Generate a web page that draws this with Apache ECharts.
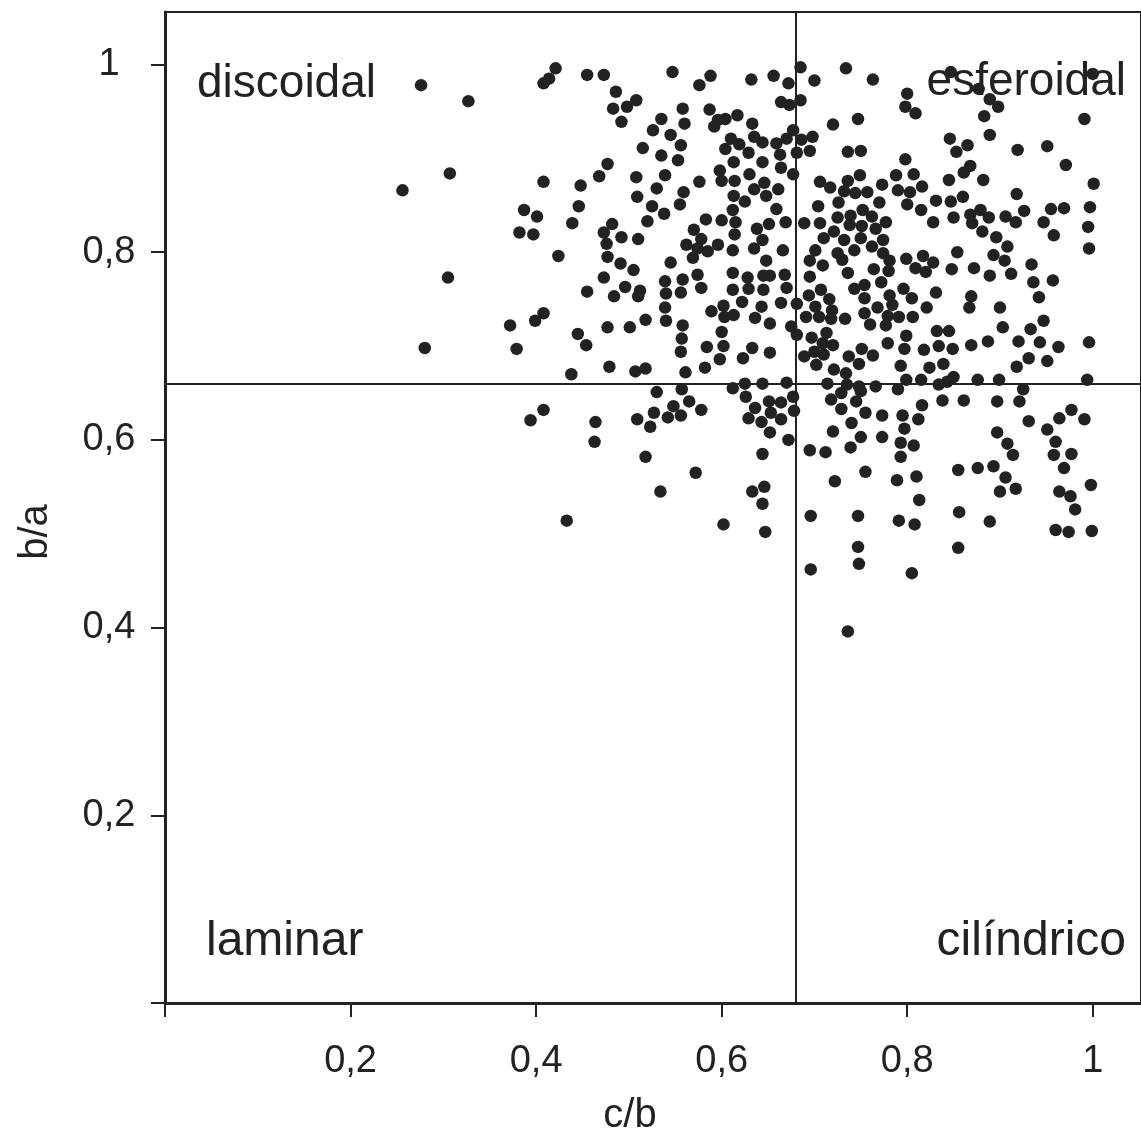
<!DOCTYPE html>
<html>
<head>
<meta charset="utf-8">
<script src="https://cdn.jsdelivr.net/npm/echarts@6/dist/echarts.min.js"></script>
<style>
  html, body { margin: 0; padding: 0; background: #ffffff; }
  #chart { width: 1141px; height: 1138px; }
</style>
</head>
<body>
<div id="chart"></div>
<script>
// Zingg shape diagram: b/a against c/b for each clast.
const FONT = '"Liberation Sans", Arial, Helvetica, sans-serif';
const INK = '#222222';

const xTicks = [0, 0.2, 0.4, 0.6, 0.8, 1];
const xLabels = [0.2, 0.4, 0.6, 0.8, 1];
const yTicks = [0, 0.2, 0.4, 0.6, 0.8, 1];
const yLabels = [0.2, 0.4, 0.6, 0.8, 1];

// class limits
const cbLimit = 0.681;
const baLimit = 0.664;

const classNames = ['discoidal', 'esferoidal', 'laminar', 'cilíndrico'];

// [c/b, b/a] per shape class
const discoidal = [
  [0.276,0.978],[0.327,0.961],[0.307,0.884],[0.256,0.866],[0.387,0.845],[0.401,0.838],[0.382,0.821],[0.397,0.819],[0.305,0.773],[0.372,0.722],[0.399,0.727],
  [0.280,0.698],[0.379,0.697],
  [0.421,0.996],[0.414,0.985],[0.408,0.980],[0.455,0.989],[0.473,0.989],[0.547,0.992],[0.588,0.988],[0.576,0.978],[0.632,0.984],[0.656,0.988],[0.672,0.980],
  [0.486,0.971],[0.483,0.953],[0.498,0.955],[0.508,0.962],[0.492,0.939],[0.558,0.953],[0.535,0.942],[0.560,0.937],[0.526,0.930],[0.587,0.952],[0.596,0.941],[0.604,0.942],[0.617,0.946],[0.592,0.934],[0.633,0.937],[0.664,0.960],[0.673,0.957],[0.677,0.930],
  [0.545,0.925],[0.556,0.914],[0.515,0.911],[0.535,0.903],[0.553,0.898],[0.610,0.921],[0.604,0.910],[0.619,0.915],[0.629,0.906],[0.635,0.923],[0.644,0.917],[0.659,0.916],[0.670,0.921],[0.663,0.904],[0.613,0.896],[0.644,0.896],[0.664,0.890],
  [0.477,0.894],[0.468,0.881],[0.508,0.880],[0.539,0.882],[0.598,0.887],[0.600,0.876],[0.614,0.876],[0.630,0.883],[0.677,0.883],[0.576,0.875],[0.408,0.875],[0.448,0.871],
  [0.530,0.868],[0.559,0.864],[0.646,0.874],[0.635,0.867],[0.661,0.867],[0.648,0.860],[0.613,0.860],[0.625,0.854],[0.509,0.859],[0.525,0.849],[0.555,0.851],[0.538,0.841],[0.446,0.849],[0.612,0.845],[0.659,0.846],
  [0.439,0.831],[0.482,0.830],[0.520,0.833],[0.583,0.835],[0.600,0.834],[0.615,0.832],[0.651,0.830],[0.669,0.832],[0.473,0.821],[0.570,0.824],[0.638,0.825],[0.614,0.819],
  [0.476,0.809],[0.492,0.816],[0.510,0.814],[0.578,0.814],[0.562,0.808],[0.574,0.804],[0.585,0.801],[0.596,0.808],[0.644,0.813],[0.635,0.804],[0.666,0.802],[0.612,0.802],
  [0.424,0.796],[0.477,0.795],[0.569,0.794],[0.545,0.789],[0.648,0.791],[0.491,0.788],[0.505,0.781],[0.473,0.773],[0.612,0.778],[0.628,0.773],[0.645,0.775],[0.652,0.775],[0.668,0.776],[0.539,0.769],[0.558,0.771],[0.574,0.776],
  [0.455,0.758],[0.496,0.763],[0.484,0.753],[0.512,0.759],[0.510,0.753],[0.540,0.756],[0.556,0.757],[0.578,0.762],[0.612,0.760],[0.629,0.761],[0.645,0.760],[0.670,0.762],
  [0.408,0.735],[0.539,0.741],[0.589,0.737],[0.602,0.743],[0.622,0.747],[0.643,0.742],[0.664,0.746],[0.603,0.731],[0.613,0.733],[0.636,0.730],[0.518,0.728],[0.540,0.727],[0.477,0.720],[0.501,0.720],[0.445,0.713],[0.558,0.722],[0.557,0.708],[0.600,0.715],[0.652,0.724],[0.675,0.721],
  [0.454,0.701],[0.556,0.694],[0.584,0.699],[0.602,0.700],[0.633,0.698],[0.652,0.693],[0.598,0.686],[0.623,0.687],[0.582,0.677],[0.479,0.678],[0.438,0.670],[0.507,0.673],[0.518,0.676],[0.561,0.672]
];

const esferoidal = [
  [0.685,0.997],[0.700,0.983],[0.685,0.962],[0.686,0.920],[0.698,0.923],[0.681,0.906],[0.695,0.908],[0.706,0.875],[0.717,0.869],[0.704,0.849],[0.689,0.831],[0.706,0.831],[0.710,0.815],[0.701,0.802],[0.695,0.791],[0.709,0.786],[0.695,0.774],[0.707,0.760],[0.694,0.754],[0.716,0.750],[0.681,0.745],[0.701,0.742],[0.719,0.738],[0.691,0.731],[0.705,0.731],[0.718,0.729],[0.681,0.712],[0.697,0.709],[0.713,0.714],
  [0.734,0.996],[0.763,0.984],[0.847,0.992],[0.877,0.974],[0.889,0.963],[0.898,0.955],[0.883,0.945],[1.000,0.990],[0.800,0.969],[0.798,0.955],[0.809,0.948],[0.991,0.942],[0.720,0.936],[0.747,0.942],
  [0.889,0.925],[0.846,0.921],[0.853,0.907],[0.865,0.914],[0.919,0.909],[0.951,0.913],[0.971,0.893],[0.736,0.907],[0.750,0.908],[0.798,0.899],[0.868,0.892],[0.861,0.885],
  [0.749,0.882],[0.788,0.882],[0.807,0.883],[0.736,0.876],[0.773,0.872],[0.845,0.877],[0.882,0.877],[1.001,0.873],[0.732,0.865],[0.744,0.863],[0.757,0.864],[0.790,0.866],[0.803,0.864],[0.816,0.870],[0.918,0.862],
  [0.726,0.853],[0.770,0.853],[0.800,0.851],[0.815,0.845],[0.831,0.855],[0.847,0.854],[0.860,0.859],[0.752,0.845],[0.997,0.848],[0.955,0.846],[0.969,0.847],
  [0.725,0.837],[0.739,0.839],[0.762,0.838],[0.777,0.832],[0.828,0.832],[0.850,0.837],[0.868,0.840],[0.879,0.845],[0.888,0.837],[0.906,0.838],[0.926,0.844],[0.917,0.832],[0.947,0.832],[0.995,0.827],[0.870,0.831],
  [0.721,0.822],[0.738,0.829],[0.751,0.828],[0.766,0.825],[0.881,0.822],[0.958,0.818],[0.732,0.813],[0.750,0.815],[0.774,0.813],[0.762,0.806],[0.896,0.816],[0.908,0.806],[0.996,0.804],
  [0.725,0.799],[0.743,0.802],[0.774,0.799],[0.854,0.800],[0.893,0.797],[0.730,0.792],[0.781,0.791],[0.799,0.793],[0.817,0.796],[0.828,0.789],[0.905,0.791],[0.934,0.787],
  [0.736,0.778],[0.764,0.782],[0.780,0.780],[0.809,0.783],[0.820,0.779],[0.848,0.782],[0.872,0.783],[0.889,0.775],[0.912,0.777],[0.936,0.768],[0.957,0.770],
  [0.743,0.761],[0.754,0.765],[0.772,0.768],[0.796,0.761],[0.781,0.754],[0.805,0.751],[0.831,0.757],[0.869,0.753],[0.942,0.752],[0.754,0.751],
  [0.768,0.741],[0.784,0.744],[0.821,0.741],[0.867,0.741],[0.900,0.741],[0.733,0.729],[0.754,0.735],[0.779,0.732],[0.791,0.731],[0.806,0.731],[0.777,0.722],[0.760,0.723],[0.947,0.727],[0.903,0.720],[0.933,0.718],[0.832,0.716],[0.845,0.716],[0.799,0.711],
  [0.689,0.689],[0.702,0.680],[0.710,0.691],[0.700,0.694],[0.709,0.703],
  [0.720,0.701],[0.751,0.697],[0.779,0.703],[0.797,0.697],[0.818,0.696],[0.834,0.700],[0.849,0.697],[0.869,0.701],[0.887,0.705],[0.920,0.705],[0.943,0.704],[0.963,0.699],[0.996,0.704],
  [0.737,0.689],[0.763,0.690],[0.748,0.681],[0.721,0.675],[0.734,0.671],[0.793,0.679],[0.824,0.677],[0.839,0.681],[0.918,0.678],[0.931,0.687],[0.951,0.684],
  [0.850,0.667],[0.799,0.664],[0.815,0.664],[0.876,0.664],[0.899,0.664],[0.994,0.664]
];

const laminar = [
  [0.394,0.621],[0.408,0.632],
  [0.612,0.655],[0.625,0.660],[0.644,0.660],[0.670,0.661],[0.530,0.651],[0.557,0.654],[0.565,0.641],[0.548,0.636],[0.527,0.629],[0.542,0.624],[0.556,0.626],[0.578,0.632],[0.509,0.622],[0.523,0.614],
  [0.464,0.619],[0.463,0.598],[0.626,0.646],[0.636,0.634],[0.651,0.641],[0.653,0.629],[0.664,0.640],[0.677,0.646],[0.678,0.631],[0.629,0.623],[0.643,0.619],[0.664,0.622],[0.652,0.608],[0.672,0.600],
  [0.518,0.582],[0.644,0.585],[0.572,0.565],[0.534,0.545],[0.633,0.545],[0.646,0.550],[0.644,0.532],
  [0.433,0.514],[0.602,0.510],[0.647,0.502]
];

const cilindrico = [
  [0.714,0.660],[0.695,0.589],[0.712,0.587],[0.696,0.519],[0.696,0.462],
  [0.735,0.659],[0.748,0.657],[0.766,0.657],[0.790,0.654],[0.834,0.659],[0.843,0.662],[0.925,0.654],[0.718,0.643],[0.729,0.650],[0.745,0.641],[0.750,0.652],
  [0.729,0.633],[0.755,0.629],[0.773,0.626],[0.795,0.626],[0.816,0.637],[0.812,0.622],[0.838,0.642],[0.861,0.642],[0.897,0.641],[0.921,0.641],
  [0.740,0.618],[0.720,0.609],[0.750,0.603],[0.773,0.603],[0.797,0.612],[0.793,0.597],[0.807,0.594],[0.739,0.592],[0.793,0.582],
  [0.897,0.608],[0.908,0.596],[0.914,0.584],[0.931,0.620],[0.951,0.611],[0.964,0.623],[0.977,0.632],[0.991,0.622],[0.960,0.598],[0.958,0.584],[0.977,0.585],[0.969,0.570],
  [0.755,0.566],[0.722,0.556],[0.789,0.557],[0.810,0.561],[0.855,0.568],[0.876,0.570],[0.893,0.572],[0.906,0.560],[0.917,0.548],[0.900,0.545],[0.964,0.545],[0.976,0.540],[0.981,0.526],[0.998,0.552],
  [0.813,0.536],[0.747,0.519],[0.791,0.514],[0.808,0.510],[0.856,0.523],[0.889,0.513],[0.960,0.504],[0.974,0.502],[0.999,0.503],
  [0.747,0.486],[0.748,0.468],[0.855,0.485],[0.805,0.458],[0.736,0.396]
];

const decimalComma = v => String(v).replace('.', ',');

const chart = echarts.init(document.getElementById('chart'), null, { renderer: 'canvas' });

const pointSeries = [discoidal, esferoidal, laminar, cilindrico].map((pts, i) => ({
  name: classNames[i],
  type: 'scatter',
  data: pts,
  symbol: 'circle',
  symbolSize: 12.5,
  itemStyle: { color: INK, opacity: 1 },
  silent: true,
  z: 3
}));

// class boundary lines
pointSeries[0].markLine = {
  silent: true,
  symbol: ['none', 'none'],
  label: { show: false },
  lineStyle: { color: INK, width: 2, type: 'solid' },
  data: [{ xAxis: cbLimit }, { yAxis: baLimit }],
  animation: false
};

chart.setOption({
  animation: false,
  backgroundColor: '#ffffff',
  grid: {
    left: 165, top: 12, right: -4, bottom: 135,
    show: true, borderColor: INK, borderWidth: 2, backgroundColor: 'transparent'
  },
  xAxis: {
    type: 'value', min: 0, max: 1.052, interval: 0.2,
    splitLine: { show: false },
    axisLine: { onZero: false, lineStyle: { color: INK, width: 3 } },
    axisTick: { customValues: xTicks, length: 14, lineStyle: { color: INK, width: 2 } },
    axisLabel: {
      customValues: xLabels, formatter: decimalComma,
      color: INK, fontFamily: FONT, fontSize: 38, margin: 40
    }
  },
  yAxis: {
    type: 'value', min: 0, max: 1.056, interval: 0.2,
    splitLine: { show: false },
    axisLine: { onZero: false, lineStyle: { color: INK, width: 3 } },
    axisTick: { customValues: yTicks, length: 14, lineStyle: { color: INK, width: 2 } },
    axisLabel: {
      customValues: yLabels, formatter: decimalComma,
      color: INK, fontFamily: FONT, fontSize: 38, margin: 56, align: 'center'
    }
  },
  graphic: [
    { type: 'text', x: 197, y: 84, style: { text: classNames[0], font: '46px ' + FONT, fill: INK, textAlign: 'left', textVerticalAlign: 'middle' } },
    { type: 'text', x: 1126, y: 82, style: { text: classNames[1], font: '46px ' + FONT, fill: INK, textAlign: 'right', textVerticalAlign: 'middle' } },
    { type: 'text', x: 206, y: 942, style: { text: classNames[2], font: '48px ' + FONT, fill: INK, textAlign: 'left', textVerticalAlign: 'middle' } },
    { type: 'text', x: 1126, y: 942, style: { text: classNames[3], font: '48px ' + FONT, fill: INK, textAlign: 'right', textVerticalAlign: 'middle' } },
    { type: 'text', x: 630, y: 1116, style: { text: 'c/b', font: '40px ' + FONT, fill: INK, textAlign: 'center', textVerticalAlign: 'middle' } },
    { type: 'text', x: 36, y: 532, rotation: Math.PI / 2, style: { text: 'b/a', font: '40px ' + FONT, fill: INK, textAlign: 'center', textVerticalAlign: 'middle' } }
  ],
  series: pointSeries
});
</script>
</body>
</html>
